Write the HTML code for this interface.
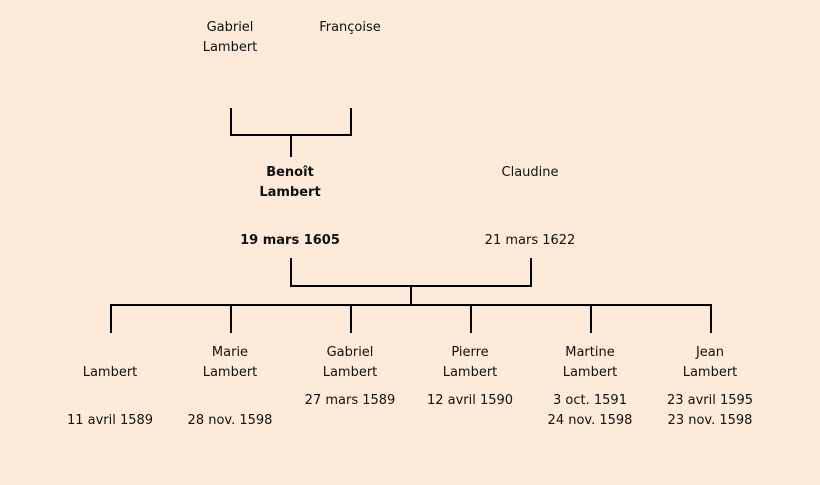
<!DOCTYPE html>
<html><head><meta charset="utf-8"><style>
body{margin:0;width:820px;height:485px;background:#fcebd8;overflow:hidden;position:relative;font-family:"Comic Sans MS","DejaVu Sans","Liberation Sans",sans-serif;font-size:13px;color:#111}
.t{position:absolute;width:140px;text-align:center;line-height:20px;transform:translateX(-70px)}
b{font-weight:bold}
</style></head><body>
<svg width="820" height="485" style="position:absolute;left:0;top:0" fill="none" stroke="#000" stroke-width="2">
<path d="M231 108V136M351 108V136M230 135H352M291 135V157"/>
<path d="M291 258V287M531 258V287M290 286H532M411 286V305"/>
<path d="M110 305H712M111 304V333M231 304V333M351 304V333M471 304V333M591 304V333M711 304V333"/>
</svg>
<div class="t" style="left:230px;top:18px">Gabriel<br>Lambert</div>
<div class="t" style="left:350px;top:18px">Françoise</div>
<div class="t" style="left:290px;top:163px"><b>Benoît<br>Lambert</b></div>
<div class="t" style="left:290px;top:231px"><b>19 mars 1605</b></div>
<div class="t" style="left:530px;top:163px">Claudine</div>
<div class="t" style="left:530px;top:231px">21 mars 1622</div>
<div class="t" style="left:110px;top:363px">Lambert</div>
<div class="t" style="left:110px;top:411px">11 avril 1589</div>
<div class="t" style="left:230px;top:343px">Marie<br>Lambert</div>
<div class="t" style="left:230px;top:411px">28 nov. 1598</div>
<div class="t" style="left:350px;top:343px">Gabriel<br>Lambert</div>
<div class="t" style="left:350px;top:391px">27 mars 1589</div>
<div class="t" style="left:470px;top:343px">Pierre<br>Lambert</div>
<div class="t" style="left:470px;top:391px">12 avril 1590</div>
<div class="t" style="left:590px;top:343px">Martine<br>Lambert</div>
<div class="t" style="left:590px;top:391px">3 oct. 1591<br>24 nov. 1598</div>
<div class="t" style="left:710px;top:343px">Jean<br>Lambert</div>
<div class="t" style="left:710px;top:391px">23 avril 1595<br>23 nov. 1598</div>
</body></html>
